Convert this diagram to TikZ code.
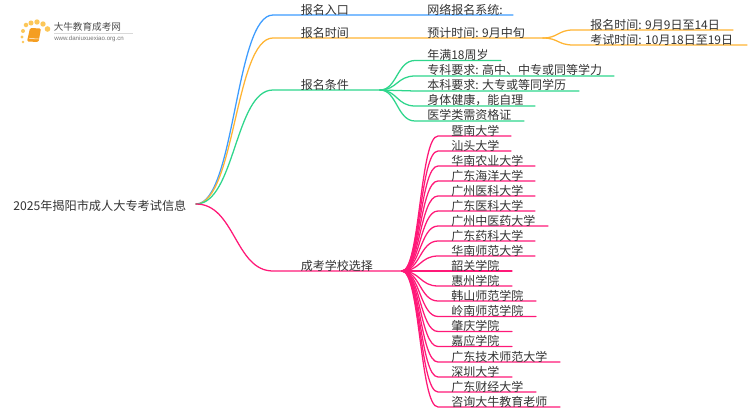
\documentclass[tikz,border=0pt]{standalone}
\usepackage{fontspec}
\setmainfont{Noto Sans CJK SC}
\newfontfamily\urlfont{Liberation Sans}
\usepackage{xcolor}
\usetikzlibrary{positioning}
\definecolor{bluebr}{rgb}{0.24,0.61,1.}
\definecolor{orangebr}{rgb}{1.,0.71,0.2}
\definecolor{greenbr}{rgb}{0.18,0.84,0.55}
\definecolor{pinkbr}{rgb}{1.,0.1,0.47}
\definecolor{txtgray}{rgb}{0.2,0.2,0.2}
\definecolor{bookor}{rgb}{0.96,0.62,0.13}
\definecolor{dotor}{rgb}{0.99,0.78,0.35}
\tikzset{
  lbl/.style={anchor=west,inner sep=0pt,text=txtgray,font=\fontsize{9}{9}\selectfont},
  link/.style={line width=0.95pt,line cap=round},
  logodot/.style={circle,fill=dotor,inner sep=0pt,minimum size=#1}
}
\begin{document}
\begin{tikzpicture}[x=0.75pt,y=-0.75pt]
\useasboundingbox (0,0) rectangle (750,410);
\fill [white] (0,0) rectangle (750,410);
% logo
\foreach \i/\px/\py/\ds in {a/23/42/2pt,b/22/37/2.4pt,c/23/31/3pt,d/26/25/3.4pt,e/31/23/3.8pt,f/37/22/4pt,g/43/24/4pt,h/47.5/29/4.2pt}
  \node [logodot=\ds] (dot\i) at (\px,\py) {};
\fill [bookor,rounded corners=1pt] (30,28) -- (41,28.5) -- (38.5,42) -- (27,41.5) -- cycle;
\draw [white,line width=0.4pt] (29.5,38.5) -- (38.5,39);
\node [anchor=west,inner sep=0pt,text=black!70,font=\fontsize{7.2}{7.2}\selectfont] (logotitle) at (53.5,27) {大牛教育成考网};
\node [anchor=west,inner sep=0pt,text=black!55,font=\urlfont\fontsize{4.6}{4.6}\selectfont] (logourl) at (54,38.5) {www.daniuxuexiao.org.cn};
\coordinate (rulea) at (54,33);
\coordinate (ruleb) at (133,33);
\draw [black!15,line width=0.4pt] (rulea) -- (ruleb);
% root
\node [lbl,font=\fontsize{9.13}{9.13}\selectfont] (root) at (13,205.5) {2025年揭阳市成人大专考试信息};
\coordinate (rootout) at (196,204);
% main branches
\coordinate (rua) at (273,15);
\coordinate (rub) at (513,15);
\draw [link,color=bluebr] (rootout) .. controls (235,204) and (235,15) .. (rua) -- (rub);
\node [lbl] (entry) at (300.5,9.7) {报名入口};
\node [lbl] (entryval) at (427,9.7) {网络报名系统:};
\coordinate (tma) at (273,38);
\coordinate (tmb) at (543,38);
\draw [link,color=orangebr] (rootout) .. controls (235,204) and (235,38) .. (tma) -- (tmb);
\node [lbl] (time) at (300.5,32.7) {报名时间};
\node [lbl] (timeval) at (427,32.7) {预计时间: 9月中旬};
\coordinate (tca) at (573,30);
\coordinate (tcb) at (733,30);
\coordinate (tda) at (573,45);
\coordinate (tdb) at (747,45);
\draw [link,color=orangebr] (tmb) .. controls (558,38) and (558,30) .. (tca) -- (tcb);
\draw [link,color=orangebr] (tmb) .. controls (558,38) and (558,45) .. (tda) -- (tdb);
\node [lbl] (signdate) at (590,24.7) {报名时间: 9月9日至14日};
\node [lbl] (examdate) at (590,39.7) {考试时间: 10月18日至19日};
\coordinate (cda) at (273,90);
\coordinate (cdb) at (380,90);
\draw [link,color=greenbr] (rootout) .. controls (235,204) and (235,90) .. (cda) -- (cdb);
\node [lbl] (cond) at (300.5,84.7) {报名条件};
\foreach \i/\yy/\xe/\txt in {a/60.5/501/年满18周岁,b/76/614/专科要求: 高中、中专或同等学力,c/91/579/本科要求: 大专或等同学历,d/106/535/身体健康，能自理,e/121/524/医学类需资格证}{
  \coordinate (cs\i) at (415,\yy);
  \coordinate (ce\i) at (\xe,\yy);
  \draw [link,color=greenbr] (cdb) .. controls (397,90) and (397,\yy) .. (cs\i) -- (ce\i);
  \node [lbl] (ct\i) at (427,\yy-6) {\txt};
}
\coordinate (sca) at (273,271);
\coordinate (scb) at (402,271);
\draw [link,color=pinkbr] (rootout) .. controls (235,204) and (235,271) .. (sca) -- (scb);
\node [lbl] (school) at (300.5,265.7) {成考学校选择};
\foreach \i/\yy/\xe/\txt in {1/136/511/暨南大学,2/151/511/汕头大学,3/166/535/华南农业大学,4/181/535/广东海洋大学,5/196/535/广州医科大学,6/211/535/广东医科大学,7/226/548/广州中医药大学,8/241/535/广东药科大学,9/256/535/华南师范大学,10/271/512/韶关学院,11/286/512/惠州学院,12/301/536/韩山师范学院,13/316.5/536/岭南师范学院,14/331.5/512/肇庆学院,15/346.5/512/嘉应学院,16/362/560/广东技术师范大学,17/377/512/深圳大学,18/392/536/广东财经大学,19/407/560/咨询大牛教育老师}{
  \coordinate (ss\i) at (438,\yy);
  \coordinate (se\i) at (\xe,\yy);
  \draw [link,color=pinkbr] (scb) .. controls (420,271) and (420,\yy) .. (ss\i) -- (se\i);
  \node [lbl] (st\i) at (451,\yy-5.5) {\txt};
}
\end{tikzpicture}
\end{document}
